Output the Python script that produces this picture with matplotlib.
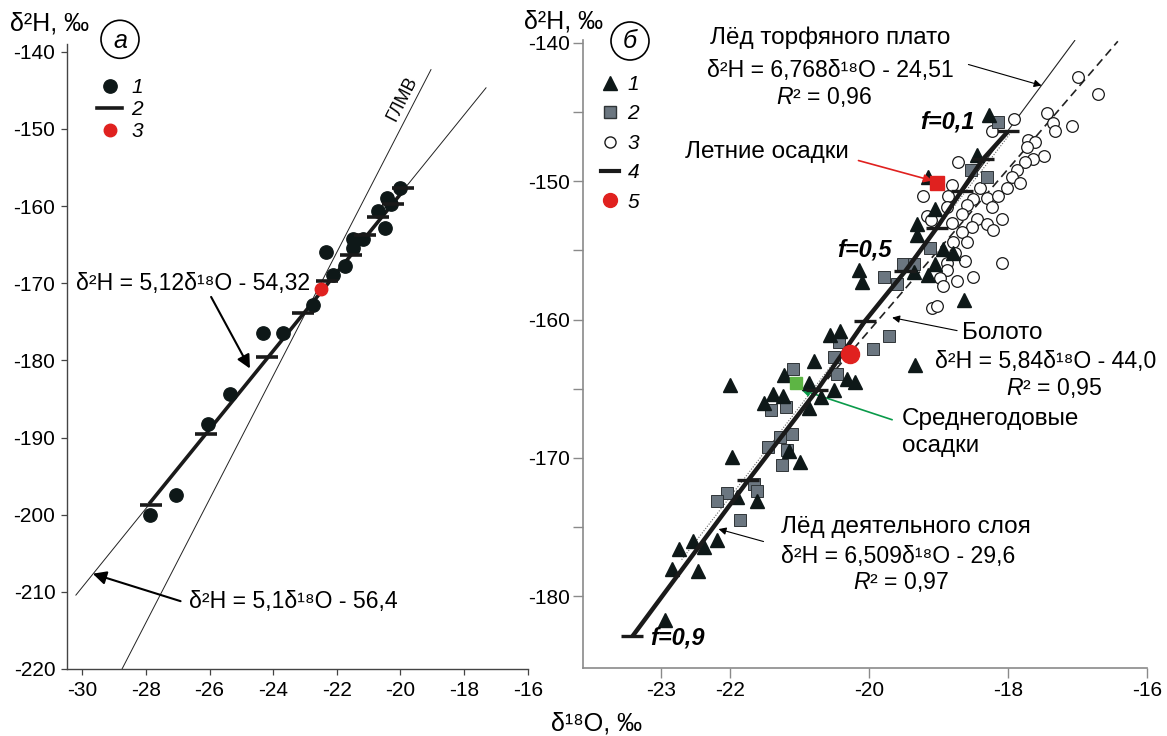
import matplotlib
matplotlib.use('Agg')
import matplotlib.pyplot as plt
from matplotlib.lines import Line2D
from matplotlib.patches import Ellipse
import numpy as np

plt.rcParams['font.family'] = ['Liberation Sans', 'DejaVu Sans']
plt.rcParams['mathtext.fontset'] = 'custom'
plt.rcParams['mathtext.rm'] = 'Liberation Sans'
plt.rcParams['mathtext.it'] = 'Liberation Sans:italic'
plt.rcParams['mathtext.bf'] = 'Liberation Sans:bold'
plt.rcParams['axes.unicode_minus'] = False

# ---------------- panel a data ----------------
a_pts_x = [-20.0, -20.43, -20.30, -20.72, -20.48, -21.48, -21.18, -21.48, -22.35,
           -21.74, -22.13, -22.74, -24.31, -23.68, -25.36, -26.05, -27.06, -27.88]
a_pts_y = [-157.6, -159.0, -159.7, -160.7, -162.9, -164.3, -164.3, -165.5, -165.9,
           -167.8, -168.9, -172.8, -176.5, -176.5, -184.4, -188.3, -197.5, -200.1]
a_calc_x = [-19.92, -20.22, -20.69, -21.11, -21.56, -22.31, -23.05, -24.18, -26.1, -27.84]
a_calc_y = [-157.6, -159.8, -161.4, -163.8, -166.3, -169.7, -173.8, -179.5, -189.5, -198.7]
a_red_x = [-22.5]
a_red_y = [-170.8]
a_fit_x = [-27.9, -19.85]          # thick regression line ends
a_fit_y = [-198.6, -157.7]
a_lmwl_x = [-30.2, -17.31]         # d2H = 5.1 d18O - 56.4
a_lmwl_slope, a_lmwl_int = 5.1, -56.4
a_gmwl_x = [-28.75, -19.04]        # GMWL d2H = 8 d18O + 10
a_gmwl_slope, a_gmwl_int = 8.0, 10.0
a_xticks = [-30, -28, -26, -24, -22, -20, -18, -16]
a_yticks = [-140, -150, -160, -170, -180, -190, -200, -210, -220]

# ---------------- panel b data ----------------
b_tri_x = [-18.28, -18.45, -19.15, -19.05, -19.31, -19.31, -18.94, -18.79, -19.05, -19.15,
           -19.36, -20.14, -20.10, -18.64, -20.42, -20.56, -19.34, -20.80, -21.23, -20.87,
           -20.51, -20.32, -20.20, -22.0, -21.52, -21.38, -21.24, -20.87, -20.70, -21.98,
           -21.16, -20.99, -21.90, -21.62, -22.74, -22.53, -22.38, -22.19, -22.84, -22.46, -22.94]
b_tri_y = [-145.2, -148.1, -149.7, -152.0, -153.1, -153.9, -154.9, -155.2, -156.0, -156.8,
           -156.6, -156.4, -157.3, -158.6, -160.8, -161.1, -163.3, -163.0, -164.0, -164.6,
           -165.1, -164.3, -164.5, -164.7, -166.0, -165.4, -165.5, -166.4, -165.6, -169.9,
           -169.5, -170.3, -172.8, -173.1, -176.6, -176.0, -176.4, -175.9, -178.0, -178.2, -181.7]
b_sq_x = [-18.14, -18.54, -18.31, -19.13, -19.51, -19.35, -19.78, -19.60, -19.72, -19.94,
          -20.43, -20.51, -20.47, -21.09, -21.41, -21.20, -21.11, -21.28, -21.45, -21.18,
          -21.26, -21.66, -21.62, -22.05, -22.19, -21.86]
b_sq_y = [-145.7, -149.2, -149.7, -154.8, -156.0, -156.0, -156.9, -157.4, -161.2, -162.1,
          -161.6, -162.7, -163.9, -163.6, -166.5, -166.3, -168.3, -168.5, -169.2, -169.4,
          -170.5, -171.9, -172.4, -172.5, -173.1, -174.5]
b_circ_x = [-16.99, -16.70, -17.92, -17.44, -17.35, -17.08, -17.32, -18.23, -17.71, -17.61,
            -17.73, -17.49, -17.64, -17.76, -18.72, -17.87, -17.95, -17.83, -18.81, -18.02,
            -18.40, -19.22, -18.86, -18.50, -18.31, -18.14, -18.59, -18.23, -18.88, -18.67,
            -18.45, -18.09, -18.81, -18.31, -18.52, -19.17, -18.67, -18.21, -18.79, -18.59,
            -18.76, -18.88, -18.62, -18.09, -18.88, -18.98, -18.74, -18.50, -18.93, -19.10,
            -19.03, -19.11]
b_circ_y = [-142.5, -143.7, -145.5, -145.1, -145.8, -146.0, -146.4, -146.4, -147.0, -147.2,
            -147.5, -148.2, -148.4, -148.6, -148.6, -149.2, -149.7, -150.1, -150.3, -150.5,
            -150.5, -151.1, -151.1, -151.3, -151.2, -151.1, -151.7, -151.9, -151.9, -152.4,
            -152.7, -152.7, -153.0, -153.1, -153.3, -152.5, -153.7, -153.5, -154.4, -154.4,
            -155.2, -155.9, -155.8, -155.9, -156.4, -157.0, -157.2, -156.9, -157.6, -159.2,
            -159.0, -152.8]
# Rayleigh model points f = 0.1 ... 0.9
b_f = [0.1, 0.2, 0.3, 0.4, 0.5, 0.6, 0.7, 0.8, 0.9]
b_model_x = [-18.0, -18.36, -18.67, -19.03, -19.48, -20.06, -20.75, -21.74, -23.41]
b_model_y = [-146.4, -148.4, -150.7, -153.4, -156.5, -160.1, -165.1, -171.6, -182.9]
b_summer_x, b_summer_y = [-19.03], [-150.1]
b_annual_x, b_annual_y = [-21.06], [-164.6]
b_mean_x, b_mean_y = [-20.27], [-162.5]
b_peat_x = [-22.9, -17.04]        # d2H = 6.768 d18O - 24.51
b_peat_slope, b_peat_int = 6.768, -24.51
b_act_x = [-22.7, -17.95]         # d2H = 6.509 d18O - 29.6
b_act_slope, b_act_int = 6.509, -29.6
b_bog_x = [-20.6, -16.42]         # d2H = 5.84 d18O - 44.0
b_bog_slope, b_bog_int = 5.84, -44.0
b_xticks = [-23, -22, -20, -18, -16]
b_yticks = [-140, -145, -150, -155, -160, -165, -170, -175, -180]

# ---------------- figure ----------------
W, H = 1167, 736
def fx(px): return px / W
def fy(py): return 1 - py / H

fig = plt.figure(figsize=(W / 100, H / 100), dpi=100)

BLK = '#0e1818'
RED = '#e0211f'
GRN = '#5db544'
SQF = '#6b7680'
SQE = '#2f3437'

# ---- panel a ----
ax1 = fig.add_axes([fx(67.3), fy(669), (527.7 - 67.3) / W, (669 - 44) / H])
ax1.set_xlim(-30.47, -16)
ax1.set_ylim(-220, -139.0)
for s in ['top', 'right']:
    ax1.spines[s].set_visible(False)
for s in ['left', 'bottom']:
    ax1.spines[s].set_color('#444444')
    ax1.spines[s].set_linewidth(1.0)
ax1.set_xticks(a_xticks)
ax1.set_yticks(a_yticks)
ax1.tick_params(direction='out', length=4.5, width=0.9, color='#444444',
                labelsize=15, pad=4)

xg = np.array(a_gmwl_x)
ax1.plot(xg, a_gmwl_slope * xg + a_gmwl_int, color='#222222', lw=0.7)
xl = np.array(a_lmwl_x)
ax1.plot(xl, a_lmwl_slope * xl + a_lmwl_int, color='#222222', lw=0.7)
ax1.plot(a_fit_x, a_fit_y, color='#1a1a1a', lw=2.6, solid_capstyle='butt')
ax1.plot(a_pts_x, a_pts_y, 'o', ms=9.6, color=BLK, mec=BLK, zorder=4)
ax1.plot(a_calc_x, a_calc_y, '_', ms=16, mew=2.6, color='#1a1a1a', zorder=5)
ax1.plot(a_red_x, a_red_y, 'o', ms=9, color=RED, mec=RED, zorder=6)

ha_a = [Line2D([], [], marker='o', ls='none', ms=9.6, color=BLK),
        Line2D([], [], color='#1a1a1a', lw=2.6),
        Line2D([], [], marker='o', ls='none', ms=9, color=RED)]
ax1.legend(ha_a, ['1', '2', '3'], loc='upper left',
           bbox_to_anchor=((97 - 67.3) / 460.4, (669 - 78) / 625),
           frameon=False, handlelength=1.2, handletextpad=0.45, labelspacing=0.14,
           borderpad=0, borderaxespad=0, prop={'style': 'italic', 'size': 15})

arr_big = dict(arrowstyle='-|>', color='black', lw=1.5, mutation_scale=20,
               shrinkA=0, shrinkB=0)
ax1.annotate('', xy=(-24.73, -181.06), xytext=(-25.95, -171.78), arrowprops=arr_big)
ax1.annotate('', xy=(-29.67, -207.65), xytext=(-26.91, -211.21), arrowprops=arr_big)

fs = 16.6
fig.text(fx(10), fy(24), 'δ²H, ‰', fontsize=18, ha='left', va='center')
fig.add_artist(Ellipse((fx(120), fy(39.3)), 38 / W, 38 / H, transform=fig.transFigure,
                       fill=False, lw=1.2, ec='black'))
fig.text(fx(120), fy(40.5), 'а', fontsize=18, style='italic', ha='center', va='center')
fig.text(fx(76), fy(283.3), 'δ²H = 5,12δ¹⁸O - 54,32', fontsize=fs,
         ha='left', va='center')
fig.text(fx(189), fy(601.7), 'δ²H = 5,1δ¹⁸O - 56,4', fontsize=fs,
         ha='left', va='center')
fig.text(fx(402), fy(98.3), 'ГЛМВ', fontsize=13, rotation=63, ha='center', va='center',
         rotation_mode='anchor')

# ---- panel b ----
ax2 = fig.add_axes([fx(583), fy(668.3), (1147 - 583) / W, (668.3 - 40) / H])
ax2.set_xlim(-24.12, -16)
ax2.set_ylim(-185.2, -139.8)
for s in ['top', 'right']:
    ax2.spines[s].set_visible(False)
for s in ['left', 'bottom']:
    ax2.spines[s].set_color('#8a8a8a')
    ax2.spines[s].set_linewidth(1.2)
ax2.set_xticks(b_xticks)
ax2.set_yticks(b_yticks)
ax2.set_yticklabels([str(v) if v % 10 == 0 else '' for v in b_yticks])
ax2.tick_params(direction='out', length=7, width=1.0, color='#8a8a8a',
                labelsize=15, pad=2.5)

xp = np.array(b_peat_x)
ax2.plot(xp, b_peat_slope * xp + b_peat_int, color='#222222', lw=0.8, zorder=2)
xa = np.array(b_act_x)
ax2.plot(xa, b_act_slope * xa + b_act_int, color='#666666', lw=0.8, ls=(0, (1, 1.5)), zorder=2)
xb = np.array(b_bog_x)
ax2.plot(xb, b_bog_slope * xb + b_bog_int, color='#222222', lw=1.2, ls=(0, (5, 3)), zorder=2)

ax2.plot(b_circ_x, b_circ_y, 'o', ms=8.4, mfc='white', mec='#1a1a1a', mew=0.9, zorder=3)
ax2.plot(b_sq_x, b_sq_y, 's', ms=8.4, mfc=SQF, mec=SQE, mew=0.7, zorder=4)
ax2.plot(b_tri_x, b_tri_y, '^', ms=9.5, color=BLK, mec=BLK, zorder=5)
ax2.plot(b_model_x, b_model_y, color='#1a1a1a', lw=3.2, zorder=6, solid_capstyle='butt')
ax2.plot(b_model_x, b_model_y, '_', ms=16.3, mew=2.4, color='#1a1a1a', zorder=6)
ax2.plot(b_summer_x, b_summer_y, 's', ms=10, color=RED, mec=RED, zorder=7)
ax2.plot(b_annual_x, b_annual_y, 's', ms=8, color=GRN, mec=GRN, zorder=7)
ax2.plot(b_mean_x, b_mean_y, 'o', ms=13, color=RED, mec=RED, zorder=7)

ha_b = [Line2D([], [], marker='^', ls='none', ms=9.5, color=BLK),
        Line2D([], [], marker='s', ls='none', ms=8.4, mfc=SQF, mec=SQE),
        Line2D([], [], marker='o', ls='none', ms=8, mfc='white', mec='#1a1a1a'),
        Line2D([], [], color='#1a1a1a', lw=3),
        Line2D([], [], marker='o', ls='none', ms=10, color=RED)]
ax2.legend(ha_b, ['1', '2', '3', '4', '5'], loc='upper left',
           bbox_to_anchor=((601 - 583) / 564, (668.3 - 75) / 628.3),
           frameon=False, handlelength=0.87, handletextpad=0.4, labelspacing=0.5,
           borderpad=0, borderaxespad=0, prop={'style': 'italic', 'size': 15})

arr_small = dict(arrowstyle='-|>', color='black', lw=0.8, mutation_scale=11,
                 shrinkA=0, shrinkB=0)
ax2.annotate('', xy=(-17.518, -143.09), xytext=(-18.571, -141.57), arrowprops=arr_small)
ax2.annotate('', xy=(-19.094, -149.96), xytext=(-20.154, -148.51),
             arrowprops=dict(arrowstyle='-|>', color=RED, lw=1.2, mutation_scale=12,
                             shrinkA=0, shrinkB=0), zorder=8)
ax2.annotate('', xy=(-19.669, -159.86), xytext=(-18.734, -160.80), arrowprops=arr_small)
ax2.annotate('', xy=(-20.978, -165.07), xytext=(-19.669, -167.24),
             arrowprops=dict(arrowstyle='-|>', color='#0a9a4a', lw=1.2, mutation_scale=12,
                             shrinkA=0, shrinkB=0))
ax2.annotate('', xy=(-22.168, -175.14), xytext=(-21.521, -176.04), arrowprops=arr_small)

fig.text(fx(524), fy(22), 'δ²H, ‰', fontsize=18, ha='left', va='center')
fig.add_artist(Ellipse((fx(630), fy(41)), 38 / W, 38 / H, transform=fig.transFigure,
                       fill=False, lw=1.2, ec='black'))
fig.text(fx(630), fy(41), 'б', fontsize=18, style='italic', ha='center', va='center')

fig.text(fx(830), fy(38), 'Лёд торфяного плато', fontsize=17.5, ha='center', va='center')
fig.text(fx(830), fy(71), 'δ²H = 6,768δ¹⁸O - 24,51', fontsize=fs, ha='center', va='center')
fig.text(fx(824), fy(96.7), '$R$² = 0,96', fontsize=fs, ha='center', va='center')
fig.text(fx(767), fy(151.7), 'Летние осадки', fontsize=17.5, ha='center', va='center')
fig.text(fx(920), fy(121.7), 'f=0,1', fontsize=17, ha='left', va='center',
         style='italic', weight='bold')
fig.text(fx(837), fy(250), 'f=0,5', fontsize=17, ha='left', va='center',
         style='italic', weight='bold')
fig.text(fx(650), fy(638.3), 'f=0,9', fontsize=17, ha='left', va='center',
         style='italic', weight='bold')
fig.text(fx(962), fy(333), 'Болото', fontsize=17.5, ha='left', va='center')
fig.text(fx(935), fy(361.7), 'δ²H = 5,84δ¹⁸O - 44,0', fontsize=fs, ha='left', va='center')
fig.text(fx(1005.5), fy(388.3), '$R$² = 0,95', fontsize=fs, ha='left', va='center')
fig.text(fx(902), fy(419.3), 'Среднегодовые', fontsize=17.5, ha='left', va='center')
fig.text(fx(902), fy(446), 'осадки', fontsize=17.5, ha='left', va='center')
fig.text(fx(781), fy(526.7), 'Лёд деятельного слоя', fontsize=17.5, ha='left', va='center')
fig.text(fx(781), fy(556), 'δ²H = 6,509δ¹⁸O - 29,6', fontsize=fs, ha='left', va='center')
fig.text(fx(852.6), fy(581.7), '$R$² = 0,97', fontsize=fs, ha='left', va='center')
fig.text(fx(551), fy(723), 'δ¹⁸O, ‰', fontsize=18, ha='left', va='center')

fig.savefig('out.png', dpi=100)
